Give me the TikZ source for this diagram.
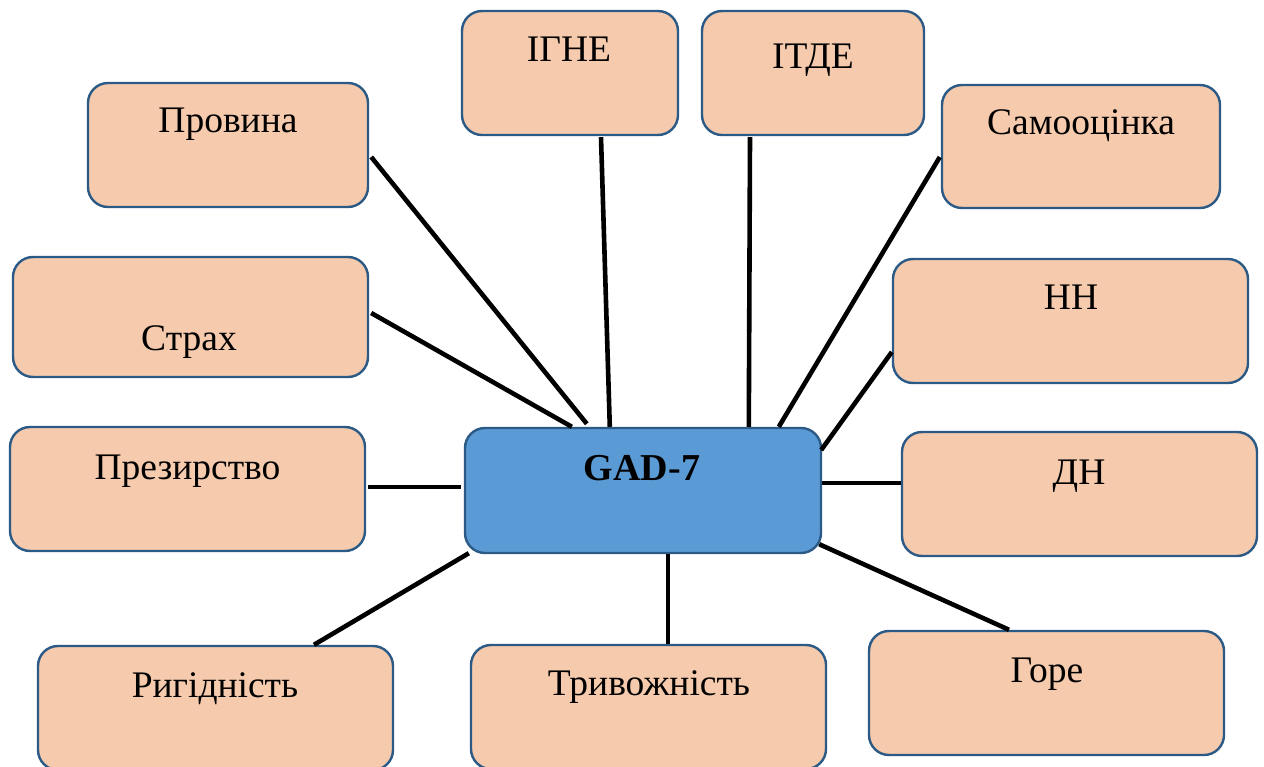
\documentclass[tikz,border=0pt]{standalone}
\usepackage{fontspec}
\setmainfont{Liberation Serif}
\usetikzlibrary{calc}
\definecolor{boxfill}{HTML}{F6CAAC}
\definecolor{boxedge}{HTML}{2C5A86}
\definecolor{gadfill}{HTML}{5B9BD5}
\tikzset{
  box/.style={draw=boxedge, line width=2.4pt, fill=boxfill, rounded corners=20pt, inner sep=0pt},
  gadbox/.style={box, fill=gadfill},
  lbl/.style={anchor=base, inner sep=0pt, font=\fontsize{37.5}{45}\selectfont},
  conn/.style={line width=4.6pt, black}
}
\begin{document}
\begin{tikzpicture}[x=1pt, y=-1pt]
\useasboundingbox (0,0) rectangle (1264,767);
% boxes
\node[box, minimum width=280pt, minimum height=124pt] (prov) at (228,145) {};
\node[box, minimum width=216pt, minimum height=124pt] (igne) at (570,73) {};
\node[box, minimum width=222pt, minimum height=124pt] (itde) at (813,73) {};
\node[box, minimum width=278pt, minimum height=123pt] (samo) at (1081,146.5) {};
\node[box, minimum width=355pt, minimum height=120pt] (strah) at (190.5,317) {};
\node[box, minimum width=355pt, minimum height=124pt] (nn) at (1070.5,321) {};
\node[box, minimum width=355pt, minimum height=124pt] (prez) at (187.5,489) {};
\node[gadbox, minimum width=356pt, minimum height=125pt] (gad) at (643,490.5) {};
\node[box, minimum width=355pt, minimum height=124pt] (dn) at (1079.5,494) {};
\node[box, minimum width=355pt, minimum height=124pt] (rig) at (215.5,708) {};
\node[box, minimum width=355pt, minimum height=124pt] (triv) at (648.5,707) {};
\node[box, minimum width=355pt, minimum height=124pt] (gore) at (1046.5,693) {};
% labels
\node[lbl] (provt) at (228,133) {Провина};
\node[lbl] (ignet) at (569,62) {ІГНЕ};
\node[lbl] (itdet) at (813,69) {ІТДЕ};
\node[lbl] (samot) at (1081,135) {Самооцінка};
\node[lbl] (straht) at (189,351) {Страх};
\node[lbl] (nnt) at (1071,310) {НН};
\node[lbl] (prezt) at (187.5,479) {Презирство};
\node[lbl, font=\fontsize{38}{45}\selectfont\bfseries] (gadt) at (642,480) {GAD-7};
\node[lbl] (dnt) at (1079,484) {ДН};
\node[lbl] (rigt) at (215,697) {Ригідність};
\node[lbl] (trivt) at (649,695) {Тривожність};
\node[lbl] (goret) at (1047,682) {Горе};
% connectors
\draw[conn] ($(prov.east)+(2,12)$) -- ($(gad.north west)+(123,-3)$);
\draw[conn] ($(igne.south)+(31,1)$) -- ($(gad.north west)+(146,0)$);
\draw[conn] ($(itde.south)+(-63,1)$) -- ($(gad.north west)+(285,0)$);
\draw[conn] ($(samo.west)+(-1,10.5)$) -- ($(gad.north west)+(315,0)$);
\draw[conn] ($(strah.east)+(2,-4)$) -- ($(gad.north west)+(108,0)$);
\draw[conn] ($(nn.west)+(0,31)$) -- ($(gad.east)+(-1,-40.5)$);
\draw[conn] ($(prez.east)+(2,-2)$) -- ($(gad.west)+(-3,-3.5)$);
\draw[conn] ($(gad.east)+(0,-7.5)$) -- ($(dn.west)+(0,-11)$);
\draw[conn] ($(rig.north)+(98.5,0)$) -- ($(gad.south west)+(5,-1)$);
\draw[conn] ($(gad.south)+(25,0)$) -- ($(triv.north)+(19.5,0)$);
\draw[conn] ($(gad.south east)+(-3,-10)$) -- ($(gore.north)+(-37.5,0)$);
\end{tikzpicture}
\end{document}
